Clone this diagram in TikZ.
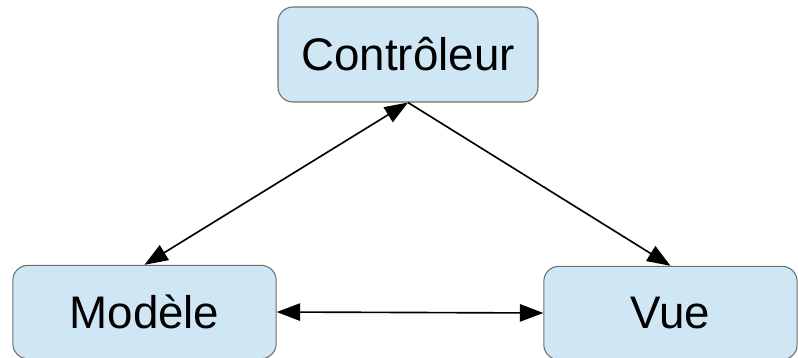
\documentclass[tikz,border=0pt]{standalone}
\usepackage{fontspec}
\setmainfont{Liberation Sans}
\usepackage{tikz}
\usetikzlibrary{positioning, arrows.meta}

\definecolor{boxblue}{RGB}{207,231,245}
\definecolor{boxline}{RGB}{110,110,110}

\begin{document}
\begin{tikzpicture}[
    x=0.03cm, y=-0.03cm,
    >={Triangle[length=0.7cm, width=0.52cm]},
    mvc_box/.style = {draw=boxline, line width=0.9pt, fill=boxblue, rectangle, rounded corners=0.45cm, align=center, font=\fontsize{39}{44}\selectfont},
    link/.style = {line width=1.4pt, draw=black}
]

% --- Cadre de l'image ---
\useasboundingbox (0,0) rectangle (798,357);

% --- Les trois composants ---
\node[mvc_box, minimum width=7.8cm, minimum height=2.85cm] (ctrl) at (408, 54.5) {Contrôleur};
\node[mvc_box, minimum width=7.9cm, minimum height=2.8cm] (model) at (144.5, 312) {Modèle};
\node[mvc_box, minimum width=7.6cm, minimum height=2.8cm] (view) at (670.5, 313) {Vue};

% --- Les flèches ---
\draw[link, <->] (ctrl.south) -- (model.north);
\draw[link, ->] (ctrl.south) -- (view.north);
\draw[link, <->] (model.east) -- (view.west);

\end{tikzpicture}
\end{document}
